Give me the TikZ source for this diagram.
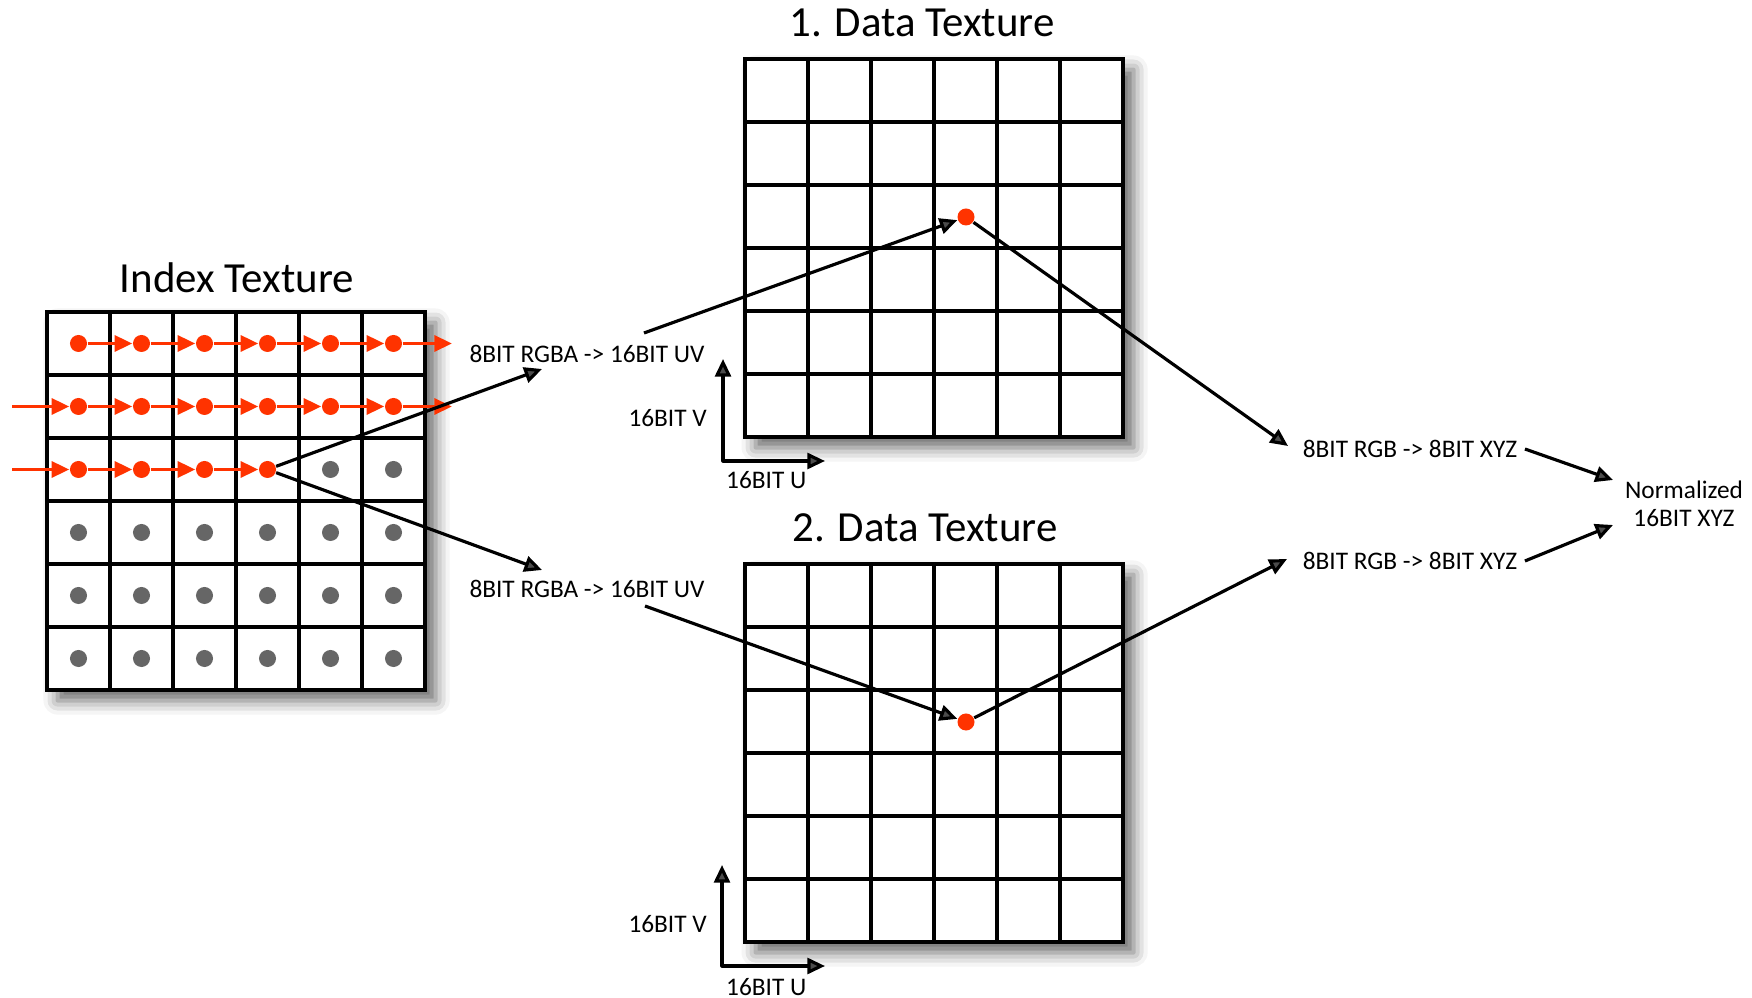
\documentclass[tikz,border=0pt]{standalone}
\usepackage{fontspec}
\setmainfont{Carlito}
\usetikzlibrary{arrows.meta,calc,shadows.blur}

\definecolor{dotred}{HTML}{FF3300}
\definecolor{dotgray}{HTML}{666666}

\tikzset{
  gridline/.style={line width=1pt, line cap=rect},
  gridbg/.style={fill=white, blur shadow={shadow xshift=3pt, shadow yshift=-3pt, shadow blur radius=4pt, shadow opacity=60}},
  reddot/.style={circle, fill=dotred, inner sep=0pt, minimum size=0.17cm},
  graydot/.style={circle, fill=dotgray, inner sep=0pt, minimum size=0.17cm},
  redarrow/.style={dotred, line width=1pt, -{Triangle[length=5pt,width=4.5pt]}},
  conn/.style={line width=0.9pt, -{Triangle[length=5pt,width=4.5pt]}},
  axes/.style={line width=0.9pt, {Triangle[length=5pt,width=4.5pt]}-{Triangle[length=5pt,width=4.5pt]}},
  title/.style={font=\fontsize{12.2}{14}\selectfont, anchor=base},
  lbl/.style={font=\fontsize{7.2}{8}\selectfont, inner sep=1pt, align=center},
}

% texture grid, top left corner in px
\newcommand\texgrid[2]{%
  \fill[gridbg] (#1,#2) rectangle ++(378,378);
  \foreach \k in {0,...,6}{
    \draw[gridline] (#1+63*\k,#2) -- ++(0,378);
    \draw[gridline] (#1,#2+63*\k) -- ++(378,0);
  }
}

\begin{document}
\begin{tikzpicture}[x=0.01cm, y=-0.01cm, line join=round, >=stealth]
	\useasboundingbox (0,0) rectangle (1752,998);

	% titles
	\node[title] (tIndex) at (237,293) {Index Texture};
	\node[title] (tData1) at (922,37) {1. Data Texture};
	\node[title] (tData2) at (925,542) {2. Data Texture};

	% grids
	\texgrid{47}{312}
	\texgrid{745}{59}
	\texgrid{745}{564}

	% index texture dots
	\foreach \r in {0,1} \foreach \c in {0,...,5}
		\node[reddot] (i\r\c) at (78.5+63*\c,343.5+63*\r) {};
	\foreach \c in {0,...,3}
		\node[reddot] (i2\c) at (78.5+63*\c,469.5) {};
	\foreach \c in {4,5}
		\node[graydot] (i2\c) at (78.5+63*\c,469.5) {};
	\foreach \r in {3,4,5} \foreach \c in {0,...,5}
		\node[graydot] (i\r\c) at (78.5+63*\c,343.5+63*\r) {};

	% read order
	\coordinate (s1) at (12,406.5);
	\coordinate (s2) at (12,469.5);
	\coordinate (e0) at (452,343.5);
	\coordinate (e1) at (452,406.5);
	\foreach \r in {0,1} \foreach \c [count=\n] in {0,...,4}
		\draw[redarrow] (i\r\c) -- (i\r\n);
	\foreach \c [count=\n] in {0,...,2}
		\draw[redarrow] (i2\c) -- (i2\n);
	\draw[redarrow] (s1) -- (i10);
	\draw[redarrow] (s2) -- (i20);
	\draw[redarrow] (i05) -- (e0);
	\draw[redarrow] (i15) -- (e1);

	% data texture dots
	\node[reddot] (d1) at (966,217) {};
	\node[reddot] (d2) at (966,722) {};

	% labels
	\node[lbl] (uvA) at (587,354) {8BIT RGBA -> 16BIT UV};
	\node[lbl] (uvB) at (587,589) {8BIT RGBA -> 16BIT UV};
	\node[lbl] (xyzA) at (1410,449) {8BIT RGB -> 8BIT XYZ};
	\node[lbl] (xyzB) at (1410,561) {8BIT RGB -> 8BIT XYZ};
	\node[lbl] (norm) at (1684,504) {Normalized\\16BIT XYZ};

	% uv axes
	\coordinate (o1) at (723,461);
	\coordinate (v1) at (723,359);
	\coordinate (u1) at (825,461);
	\coordinate (o2) at (722,966);
	\coordinate (v2) at (722,865);
	\coordinate (u2) at (825,966);
	\draw[axes] (v1) -- (o1) -- (u1);
	\draw[axes] (v2) -- (o2) -- (u2);
	\node[lbl, anchor=east] (lv1) at (711,418) {16BIT V};
	\node[lbl, anchor=west] (lu1) at (722,480) {16BIT U};
	\node[lbl, anchor=east] (lv2) at (711,924) {16BIT V};
	\node[lbl, anchor=west] (lu2) at (722,987) {16BIT U};

	% lookups
	\coordinate (uvAin) at (542,369);
	\coordinate (uvAout) at (644,333);
	\coordinate (uvBin) at (542,570);
	\coordinate (uvBout) at (645,606);
	\coordinate (xyzAin) at (1288,446);
	\coordinate (xyzBin) at (1287,559);
	\coordinate (normAin) at (1613,480);
	\coordinate (normBin) at (1613,525);
	\draw[conn] (i23) -- (uvAin);
	\draw[conn] (i23) -- (uvBin);
	\draw[conn] (uvAout) -- (d1);
	\draw[conn] (uvBout) -- (d2);
	\draw[conn] (d1) -- (xyzAin);
	\draw[conn] (d2) -- (xyzBin);
	\draw[conn] ([xshift=1pt]xyzA.east) -- (normAin);
	\draw[conn] ([xshift=1pt]xyzB.east) -- (normBin);
\end{tikzpicture}
\end{document}
